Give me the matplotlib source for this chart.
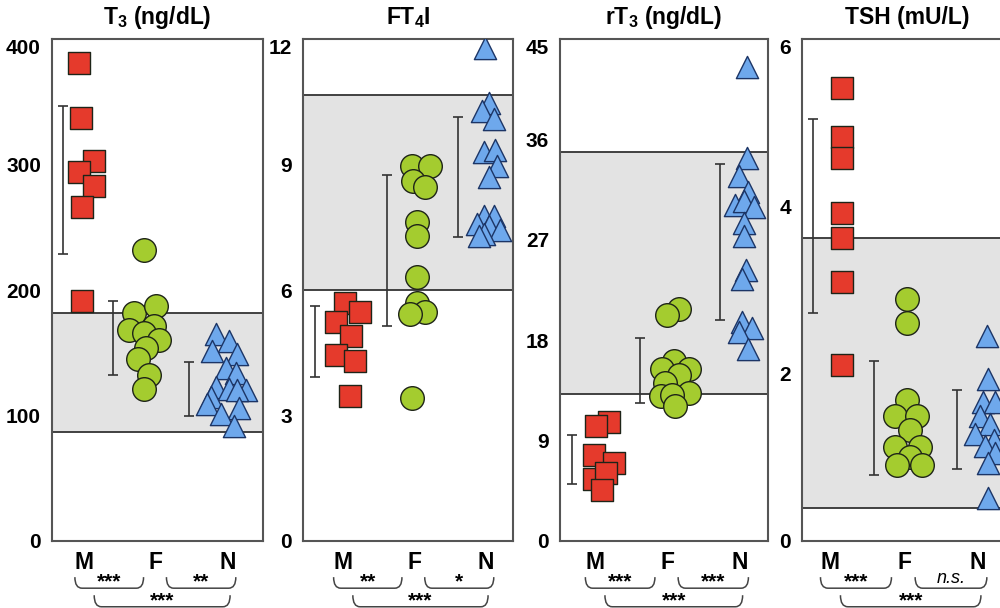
import matplotlib
matplotlib.use("Agg")
import matplotlib.pyplot as plt
from matplotlib.path import Path
from matplotlib.patches import PathPatch

plt.rcParams['font.family'] = ['Liberation Sans', 'DejaVu Sans']
plt.rcParams['mathtext.fontset'] = 'custom'
plt.rcParams['mathtext.rm'] = 'Liberation Sans:bold'
plt.rcParams['mathtext.bf'] = 'Liberation Sans:bold'

groups = ['M', 'F', 'N']

# T3 (ng/dL)
t3_m = [381, 337, 303, 294, 283, 266, 191]
t3_m_x = [0.93, 0.95, 1.14, 0.93, 1.14, 0.97, 0.97]
t3_f = [232, 182, 187, 168, 171, 166, 160, 154, 145, 132, 121]
t3_f_x = [1.84, 1.70, 2.00, 1.63, 1.98, 1.84, 2.05, 1.86, 1.75, 1.91, 1.84]
t3_n = [165, 159, 151, 149, 138, 134, 123, 121, 120, 120, 115, 109, 106, 101, 92]
t3_n_x = [2.84, 3.03, 2.79, 3.14, 2.98, 3.12, 2.84, 3.03, 3.26, 3.14, 2.77, 2.72, 3.17, 2.91, 3.10]
t3_err = [(229, 347), (132, 191), (100, 143)]
t3_band = (87, 182)

# FT4I
ft4i_m = [5.70, 5.47, 5.23, 4.91, 4.44, 4.30, 3.46]
ft4i_m_x = [1.03, 1.24, 0.91, 1.12, 0.91, 1.17, 1.10]
ft4i_f = [8.97, 8.97, 8.60, 8.46, 7.62, 7.29, 6.31, 5.70, 5.47, 5.42, 3.41]
ft4i_f_x = [1.97, 2.23, 1.99, 2.15, 2.04, 2.04, 2.04, 2.04, 2.15, 1.94, 1.97]
ft4i_n = [11.78, 10.47, 10.28, 10.09, 9.30, 9.35, 8.97, 8.69, 7.76, 7.76, 7.57, 7.52, 7.43, 7.34, 7.29]
ft4i_n_x = [2.99, 3.05, 2.95, 3.12, 2.98, 3.14, 3.16, 3.05, 2.98, 3.12, 2.88, 3.05, 3.21, 2.98, 2.91]
ft4i_err = [(3.93, 5.61), (5.14, 8.74), (7.26, 10.14)]
ft4i_band = (6.0, 10.65)

# rT3 (ng/dL)
rt3_m = [10.7, 10.3, 7.7, 7.0, 5.6, 6.1, 4.6]
rt3_m_x = [1.19, 1.01, 0.99, 1.26, 0.99, 1.15, 1.10]
rt3_f = [20.8, 20.3, 16.1, 15.4, 15.4, 14.9, 14.2, 13.3, 13.0, 13.1, 12.1]
rt3_f_x = [2.16, 2.00, 2.09, 1.93, 2.30, 2.16, 1.97, 2.30, 1.91, 2.07, 2.11]
rt3_n = [42.5, 34.3, 32.7, 31.3, 30.1, 30.5, 29.9, 28.5, 27.3, 24.3, 23.5, 19.6, 19.1, 18.7, 17.2]
rt3_n_x = [3.10, 3.10, 2.99, 3.12, 2.94, 3.06, 3.19, 3.06, 3.06, 3.08, 3.03, 3.03, 3.17, 2.99, 3.12]
rt3_err = [(5.1, 9.5), (12.4, 18.2), (19.8, 33.8)]
rt3_band = (13.2, 34.9)

# TSH (mU/L)
tsh_m = [5.42, 4.83, 4.58, 3.92, 3.62, 3.10, 2.10]
tsh_m_x = [1.16, 1.16, 1.16, 1.16, 1.16, 1.16, 1.16]
tsh_f = [2.89, 2.61, 1.68, 1.49, 1.49, 1.33, 1.12, 1.12, 1.00, 0.91, 0.91]
tsh_f_x = [2.04, 2.04, 2.04, 1.88, 2.17, 2.08, 1.88, 2.22, 2.08, 1.90, 2.24]
tsh_n = [2.45, 1.94, 1.66, 1.66, 1.49, 1.40, 1.28, 1.21, 1.14, 1.05, 0.93, 0.51]
tsh_n_x = [3.12, 3.14, 3.07, 3.23, 3.03, 3.16, 2.96, 3.21, 3.09, 3.23, 3.14, 3.14]
tsh_err = [(2.73, 5.04), (0.79, 2.15), (0.86, 1.80)]
tsh_band = (0.40, 3.62)

titles = [r'T$_\mathbf{3}$ (ng/dL)', r'FT$_\mathbf{4}$I', r'rT$_\mathbf{3}$ (ng/dL)', 'TSH (mU/L)']
yticks = [[0, 100, 200, 300, 400], [0, 3, 6, 9, 12], [0, 9, 18, 27, 36, 45], [0, 2, 4, 6]]
signif = [['***', '**', '***'], ['**', '*', '***'], ['***', '***', '***'], ['***', 'n.s.', '***']]

panels = [
    (t3_m, t3_m_x, t3_f, t3_f_x, t3_n, t3_n_x, t3_err, t3_band),
    (ft4i_m, ft4i_m_x, ft4i_f, ft4i_f_x, ft4i_n, ft4i_n_x, ft4i_err, ft4i_band),
    (rt3_m, rt3_m_x, rt3_f, rt3_f_x, rt3_n, rt3_n_x, rt3_err, rt3_band),
    (tsh_m, tsh_m_x, tsh_f, tsh_f_x, tsh_n, tsh_n_x, tsh_err, tsh_band),
]

# layout (pixels of a 1000x608 figure)
ax_left = [52, 303, 560, 802]
ax_width = [211, 210, 208, 210]
xlims = [(0.55, 3.50), (0.44, 3.39), (0.52, 3.39), (0.62, 3.46)]
err_x = [[0.70, 1.40, 2.47], [0.61, 1.62, 2.62], [0.69, 1.63, 2.73], [0.77, 1.59, 2.71]]

red = '#e53a2c'
green = '#a4cc2f'
blue = '#6ea8ec'
edge = '#1e2418'


def bracket(ax, x0, x1, ytop, ybot, label):
    tr = ax.get_xaxis_transform()
    r = 0.1
    verts = [(x0, ytop), (x0, ybot), (x0 + r, ybot), (x1 - r, ybot), (x1, ybot), (x1, ytop)]
    codes = [Path.MOVETO, Path.CURVE3, Path.CURVE3, Path.LINETO, Path.CURVE3, Path.CURVE3]
    ax.add_patch(PathPatch(Path(verts, codes), transform=tr, fill=False,
                           edgecolor='#444444', lw=1.1, clip_on=False))
    mid = (x0 + x1) / 2
    if label == 'n.s.':
        ax.text(mid, ybot + 0.003, label, transform=tr, ha='center', va='bottom',
                fontsize=13, style='italic', clip_on=False)
    else:
        ax.text(mid, ybot + 0.001, label, transform=tr, ha='center', va='baseline',
                fontsize=15, fontweight='bold', clip_on=False)


fig = plt.figure(figsize=(10, 6.08), dpi=100)

for i in range(4):
    m, mx, f, fx, n, nx, err, band = panels[i]
    ax = fig.add_axes([ax_left[i] / 1000, 67 / 608, ax_width[i] / 1000, 502 / 608])
    top = yticks[i][-1]
    ax.set_ylim(0, top)
    ax.set_xlim(*xlims[i])

    # reference range
    ax.axhspan(band[0], band[1], facecolor='#e3e3e3', edgecolor='#333333', lw=1.3, zorder=0)

    # mean +/- SD
    for j in range(3):
        lo, hi = err[j]
        ax.errorbar(err_x[i][j], (lo + hi) / 2, yerr=(hi - lo) / 2, fmt='none',
                    ecolor='#333333', elinewidth=1.2, capsize=3.6, capthick=1.2, zorder=2)

    ax.scatter(mx, m, marker='s', s=15.5 ** 2, color=red, edgecolor=edge, lw=1, zorder=3)
    ax.scatter(fx, f, marker='o', s=17 ** 2, color=green, edgecolor=edge, lw=1, zorder=3)
    ax.scatter(nx, n, marker='^', s=16 ** 2, color=blue, edgecolor='#1c3566', lw=1, zorder=3)

    ax.set_xticks([])
    ax.set_yticks(yticks[i])
    ax.set_yticklabels([str(v) for v in yticks[i]], fontsize=15, fontweight='bold')
    ax.tick_params(axis='y', length=0, pad=8)
    ax.get_yticklabels()[-1].set_va('top')
    for s in ax.spines.values():
        s.set_color('#555555')
        s.set_linewidth(1.5)

    ax.text(0.5, 1.029, titles[i], transform=ax.transAxes, ha='center', va='baseline',
            fontsize=16.5, fontweight='bold')

    tr = ax.get_xaxis_transform()
    for j, g in enumerate(groups):
        ax.text(j + 1, -0.055, g, transform=tr, ha='center', va='baseline',
                fontsize=16.5, fontweight='bold', clip_on=False)

    bracket(ax, 0.87, 1.83, -0.072, -0.094, signif[i][0])
    bracket(ax, 2.15, 3.12, -0.072, -0.094, signif[i][1])
    bracket(ax, 1.14, 3.04, -0.108, -0.131, signif[i][2])

fig.savefig('out.png', dpi=100)
